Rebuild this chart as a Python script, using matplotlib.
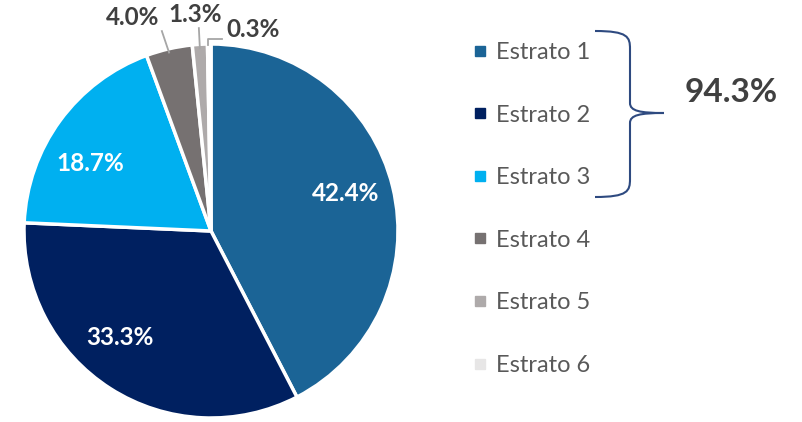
import matplotlib.pyplot as plt
import numpy as np
from matplotlib.lines import Line2D
from matplotlib.path import Path
from matplotlib.patches import PathPatch

plt.rcParams['font.family'] = ['Lato', 'DejaVu Sans']

# data
labels = ['Estrato 1', 'Estrato 2', 'Estrato 3', 'Estrato 4', 'Estrato 5', 'Estrato 6']
values = [42.4, 33.3, 18.7, 4.0, 1.3, 0.3]
colors = ['#1B6496', '#002060', '#00B0F0', '#767171', '#AEAAAA', '#E7E6E6']
grouped = 94.3   # share of Estrato 1-3 as printed on the chart

W, H = 803, 422
fig = plt.figure(figsize=(W / 100, H / 100), dpi=100)

# pie axes: centre (211, 231), radius 187 px
cx, cy, r = 211, 231, 187
ax = fig.add_axes([(cx - r) / W, (H - cy - r) / H, 2 * r / W, 2 * r / H])
wedges, _ = ax.pie(values, colors=colors, startangle=90, counterclock=False,
                   wedgeprops=dict(edgecolor='white', linewidth=2.5))
ax.set_xlim(-1, 1)
ax.set_ylim(-1, 1)
ax.set_aspect('equal')
ax.axis('off')

# inside labels (distance, angular shift in degrees)
inside_pos = [(0.75, 2), (0.75, -8), (0.74, 7)]
for w, v, (d, sh) in zip(wedges[:3], values[:3], inside_pos):
    ang = np.deg2rad((w.theta1 + w.theta2) / 2 + sh)
    ax.text(d * np.cos(ang), d * np.sin(ang), f'{v:.1f}%', color='white',
            fontsize=17.5, fontweight='bold', ha='center', va='center')

# outside labels with leader lines
out_pos = [(-0.417, 1.144), (-0.086, 1.16), (0.225, 1.08)]
for w, v, (tx, ty) in zip(wedges[3:], values[3:], out_pos):
    ang = np.deg2rad((w.theta1 + w.theta2) / 2)
    ex, ey = np.cos(ang), np.sin(ang)
    ax.text(tx, ty, f'{v:.1f}%', color='#404040', fontsize=17.5, fontweight='bold',
            ha='center', va='center', clip_on=False)
    if v < 1:
        ax.plot([ex - 0.007, ex - 0.007, tx - 0.165], [ey - 0.005, ey + 0.027, ey + 0.027],
                color='#A6A6A6', lw=1.3, clip_on=False)
    else:
        ax.plot([ex, ex + (tx - ex) * 0.2], [ey - 0.02, ty - 0.075],
                color='#A6A6A6', lw=1.3, clip_on=False)

# legend
handles = [Line2D([], [], marker='s', linestyle='none', markersize=6.5,
                  markerfacecolor=c, markeredgecolor=c) for c in colors]
leg = fig.legend(handles, labels, loc='upper left', bbox_to_anchor=(474 / W, 1 - 42 / H),
                 frameon=False, fontsize=17, labelspacing=1.76, handlelength=0.55,
                 handletextpad=0.4, borderaxespad=0, borderpad=0)
for t in leg.get_texts():
    t.set_color('#595959')

# brace and total
ov = fig.add_axes([0, 0, 1, 1])
ov.set_xlim(0, W)
ov.set_ylim(H, 0)
ov.axis('off')
x0, x1, xt = 595, 630, 664
y0, ym, y1 = 31, 113, 197
verts = [(x0, y0), (x1 - 2, y0), (x1, y0 + 6), (x1, y0 + 18),
         (x1, ym - 10),
         (x1, ym - 2), (x1 + 10, ym), (xt, ym),
         (x1 + 10, ym), (x1, ym + 2), (x1, ym + 10),
         (x1, y1 - 18),
         (x1, y1 - 6), (x1 - 2, y1), (x0, y1)]
codes = [Path.MOVETO, Path.CURVE4, Path.CURVE4, Path.CURVE4,
         Path.LINETO,
         Path.CURVE4, Path.CURVE4, Path.CURVE4,
         Path.CURVE4, Path.CURVE4, Path.CURVE4,
         Path.LINETO,
         Path.CURVE4, Path.CURVE4, Path.CURVE4]
ov.add_patch(PathPatch(Path(verts, codes), facecolor='none', edgecolor='#2E4A80', lw=1.5))
ov.text(731, 93, f'{grouped:.1f}%', fontsize=24, fontweight='bold', color='#404040',
        ha='center', va='center')

fig.savefig('out.png', dpi=100)
